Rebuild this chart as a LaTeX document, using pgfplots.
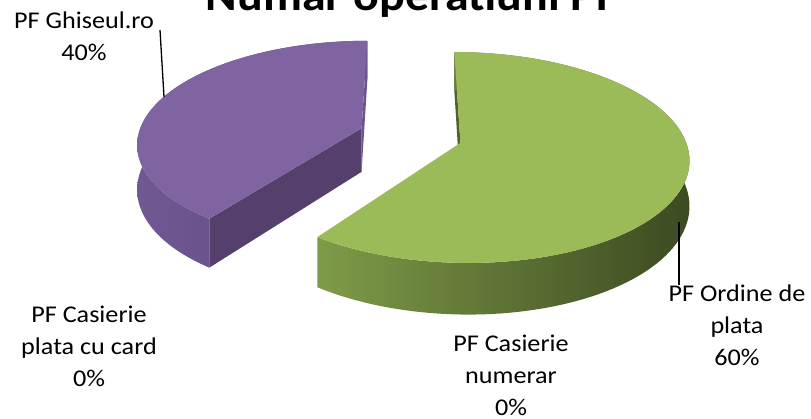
\documentclass[border=0pt]{standalone}
\usepackage{pgfplots}
\pgfplotsset{compat=1.18}
\usepackage{fontspec}
\setmainfont{Carlito}
\definecolor{gtop}{HTML}{9BBB59}
\definecolor{gw1}{HTML}{7E9B48}
\definecolor{gw2}{HTML}{5B7233}
\definecolor{gw3}{HTML}{3C4A21}
\definecolor{gcut}{HTML}{4F6228}
\definecolor{ptop}{HTML}{8064A2}
\definecolor{pw1}{HTML}{705893}
\definecolor{pw2}{HTML}{5E4A7E}
\definecolor{pcut}{HTML}{553F6C}
\definecolor{pcutb}{HTML}{6B5590}
\newcommand{\lbl}[1]{\scalebox{1.09}[1]{#1}}
\begin{document}
\begin{tikzpicture}[x=1bp,y=1bp]
\pgfkeys{/pgf/declare function={
  PX(\pU,\pV)=410.5+223.5*\pU/(1+0.1375*\pV);
  PY(\pU,\pV)=135.5-101.4*\pV/(1+0.1375*\pV);
  PB(\pU,\pV)=135.5+(44-101.4*\pV)/(1+0.1375*\pV);
  TH(\pS,\pA,\pB)=(\pS<=100) ? (\pA+(\pB-\pA)*\pS/100) : (\pB-(\pB-\pA)*(\pS-101)/100);
}}
% data: shares in percent (clockwise from 12 o'clock)
\def\vOrdine{60}
\def\vNumerar{0}
\def\vCard{0}
\def\vGhiseul{40}
\def\expl{0.2326}
\pgfmathsetmacro\ga{0}
\pgfmathsetmacro\gb{3.6*\vOrdine}
\pgfmathsetmacro\pa{3.6*(\vOrdine+\vNumerar+\vCard)}
\pgfmathsetmacro\pb{\pa+3.6*\vGhiseul}
\pgfmathsetmacro\gmid{(\ga+\gb)/2}
\pgfmathsetmacro\pmid{(\pa+\pb)/2}
\pgfmathsetmacro\gdx{\expl*sin(\gmid)}
\pgfmathsetmacro\gdy{\expl*cos(\gmid)}
\pgfmathsetmacro\pdx{\expl*sin(\pmid)}
\pgfmathsetmacro\pdy{\expl*cos(\pmid)}
% apex and edge points
\pgfmathsetmacro\gax{PX(\gdx,\gdy)}
\pgfmathsetmacro\gay{PY(\gdx,\gdy)}
\pgfmathsetmacro\gby{PB(\gdx,\gdy)}
\pgfmathsetmacro\gex{PX(\gdx+sin(\ga),\gdy+cos(\ga))}
\pgfmathsetmacro\gey{PY(\gdx+sin(\ga),\gdy+cos(\ga))}
\pgfmathsetmacro\geb{PB(\gdx+sin(\ga),\gdy+cos(\ga))}
\pgfmathsetmacro\pax{PX(\pdx,\pdy)}
\pgfmathsetmacro\pay{PY(\pdx,\pdy)}
\pgfmathsetmacro\pby{PB(\pdx,\pdy)}
\pgfmathsetmacro\pex{PX(\pdx+sin(\pa),\pdy+cos(\pa))}
\pgfmathsetmacro\pey{PY(\pdx+sin(\pa),\pdy+cos(\pa))}
\pgfmathsetmacro\peb{PB(\pdx+sin(\pa),\pdy+cos(\pa))}
\pgfmathsetmacro\pfx{PX(\pdx+sin(\pb),\pdy+cos(\pb))}
\pgfmathsetmacro\pfy{PY(\pdx+sin(\pb),\pdy+cos(\pb))}
\pgfmathsetmacro\pfb{PB(\pdx+sin(\pb),\pdy+cos(\pb))}
\begin{axis}[at={(0,0)}, anchor=south west, scale only axis,
  width=811bp, height=418bp, xmin=0, xmax=811, ymin=0, ymax=418,
  y dir=reverse, hide axis, clip=false]
% ---- purple slice (PF Ghiseul.ro) ----
\addplot[draw=none, left color=pw1, right color=pw2, variable=\s, samples at={0,1,...,201}]
  ({PX(\pdx+sin(TH(\s,\pa,\pb)),\pdy+cos(TH(\s,\pa,\pb)))},
   {(\s<=100) ? PY(\pdx+sin(TH(\s,\pa,\pb)),\pdy+cos(TH(\s,\pa,\pb))) : PB(\pdx+sin(TH(\s,\pa,\pb)),\pdy+cos(TH(\s,\pa,\pb)))}) -- cycle;
\addplot[draw=none, fill=pcut] coordinates {(\pax,\pay) (\pex,\pey) (\pex,\peb) (\pax,\pby)} -- cycle;
\addplot[draw=none, fill=pcutb] coordinates {(\pax,\pay) (\pfx,\pfy) (\pfx,\pfb) (\pax,\pby)} -- cycle;
\addplot[draw=none, fill=ptop, variable=\t, domain=\pa:\pb, samples=90]
  ({PX(\pdx+sin(\t),\pdy+cos(\t))},{PY(\pdx+sin(\t),\pdy+cos(\t))}) -- (axis cs:\pax,\pay) -- cycle;
% ---- green slice (PF Ordine de plata) ----
\addplot[draw=none, fill=gcut] coordinates {(\gax,\gay) (\gex,\gey) (\gex,\geb) (\gax,\gby)} -- cycle;
\addplot[draw=none, left color=gw1, middle color=gw2, right color=gw3, variable=\s, samples at={0,1,...,201}]
  ({PX(\gdx+sin(TH(\s,\ga,\gb)),\gdy+cos(TH(\s,\ga,\gb)))},
   {(\s<=100) ? PY(\gdx+sin(TH(\s,\ga,\gb)),\gdy+cos(TH(\s,\ga,\gb))) : PB(\gdx+sin(TH(\s,\ga,\gb)),\gdy+cos(TH(\s,\ga,\gb)))}) -- cycle;
\addplot[draw=none, fill=gtop, variable=\t, domain=\ga:\gb, samples=120]
  ({PX(\gdx+sin(\t),\gdy+cos(\t))},{PY(\gdx+sin(\t),\gdy+cos(\t))}) -- (axis cs:\gax,\gay) -- cycle;
% ---- leader lines ----
\addplot[black, line width=1.3bp] coordinates {(160,30) (164,97)};
\addplot[black, line width=1.3bp] coordinates {(679,222) (679,285)};
% ---- labels ----
\node[anchor=base, font=\bfseries\fontsize{44bp}{50bp}\selectfont] at (axis cs:412,11) {\lbl{Numar operatiuni PF}};
\begin{scope}[every node/.style={anchor=base, font=\fontsize{24bp}{30bp}\selectfont, inner sep=0pt}]
\node at (axis cs:84,29) {\lbl{PF Ghiseul.ro}};
\node at (axis cs:84,61) {\lbl{40\%}};
\node at (axis cs:737,301) {\lbl{PF Ordine de}};
\node at (axis cs:737,333) {\lbl{plata}};
\node at (axis cs:737,365) {\lbl{60\%}};
\node at (axis cs:89,322) {\lbl{PF Casierie}};
\node at (axis cs:89,354) {\lbl{plata cu card}};
\node at (axis cs:89,386) {\lbl{0\%}};
\node at (axis cs:511,351) {\lbl{PF Casierie}};
\node at (axis cs:511,383) {\lbl{numerar}};
\node at (axis cs:511,415) {\lbl{0\%}};
\end{scope}
\end{axis}
\pgfresetboundingbox
\path (0,0) rectangle (811,418);
\end{tikzpicture}
\end{document}
